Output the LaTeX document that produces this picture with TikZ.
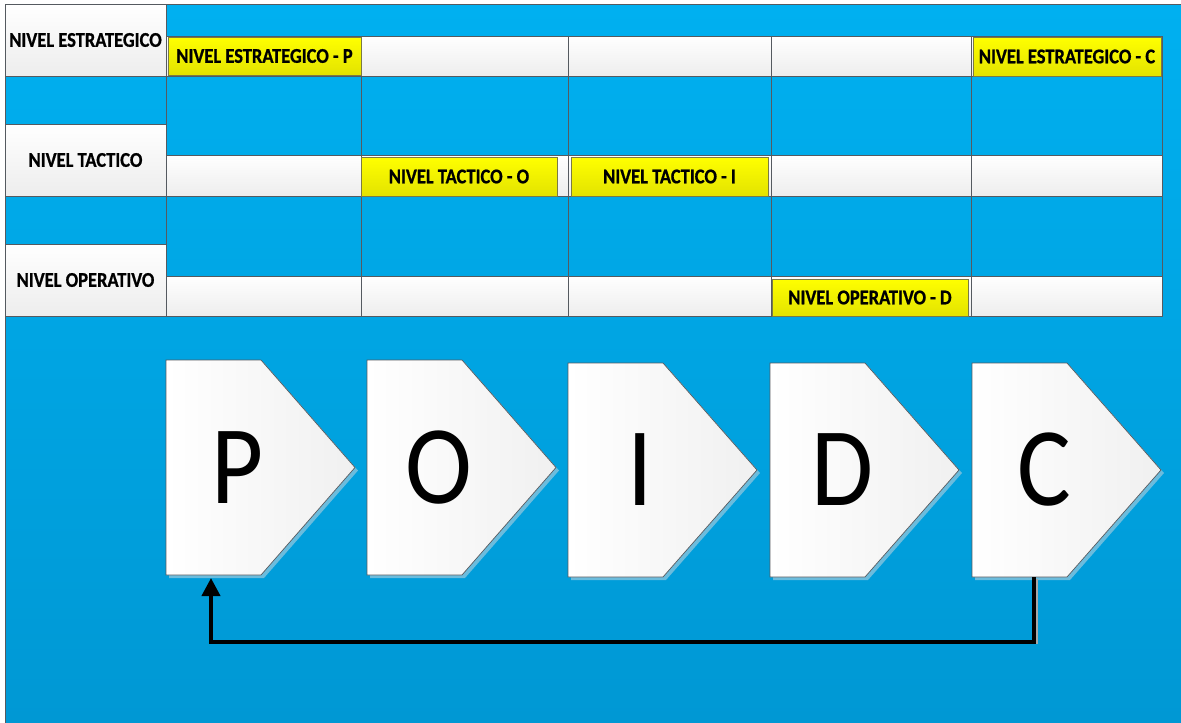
\documentclass[tikz,border=0pt]{standalone}
\usepackage{fontspec}
\setmainfont{Carlito}
\newfontfamily\labfont[FakeStretch=0.9]{Carlito}
\newfontfamily\boldlab[FakeStretch=0.88,UprightFont=* Bold,FakeBold=0.8]{Carlito}
\usetikzlibrary{arrows.meta}
\definecolor{bgtop}{HTML}{00B0F0}
\definecolor{bgbot}{HTML}{0098D4}
\definecolor{linegray}{HTML}{555A60}
\definecolor{cellbot}{HTML}{EDEDED}
\definecolor{ytop}{HTML}{FFFF00}
\definecolor{ybot}{HTML}{E3E300}
\definecolor{yedge}{HTML}{7A7A45}
\definecolor{shadowc}{HTML}{6BBCDD}
\definecolor{chevbot}{HTML}{F0F0F0}
\tikzset{
  cellbox/.style={draw=linegray, line width=0.9pt, top color=white, bottom color=cellbot, inner sep=0pt, outer sep=0pt, anchor=north west},
  labelbox/.style={cellbox, font=\boldlab\fontsize{21}{24}\selectfont, text=black},
  ybox/.style={draw=yedge, line width=0.9pt, top color=ytop, bottom color=ybot, inner sep=0pt, outer sep=0pt, anchor=north west, font=\boldlab\fontsize{21}{24}\selectfont, text=black},
  chevshape/.style={draw=linegray, line width=0.7pt, left color=white, right color=chevbot},
  bigletter/.style={font=\labfont\fontsize{112}{112}\selectfont, text=black, inner sep=0pt},
  conn/.style={line width=4pt, draw=black, -{Triangle[length=18pt,width=18pt]}}
}
\newcommand\chevron[5]{%
  \fill[shadowc, shift={(3,3)}] (#2,#3) -- ({#2+95},#3) -- ({#2+189},{(#3+#4)/2}) -- ({#2+95},#4) -- (#2,#4) -- cycle;
  \path[chevshape] (#2,#3) -- ({#2+95},#3) -- ({#2+189},{(#3+#4)/2}) -- ({#2+95},#4) -- (#2,#4) -- cycle;
  \node[bigletter] (#1) at ({#2+72},{(#3+#4)/2}) {#5};
}
\begin{document}
\begin{tikzpicture}[x=1pt,y=-1pt]
\useasboundingbox (0,0) rectangle (1181,723);
% background
\fill[top color=bgtop, bottom color=bgbot] (5,4) rectangle (1181,723);
\draw[linegray, line width=1pt] (5,723) -- (5,4) -- (1181,4);
% vertical grid lines in lanes
\foreach \xx in {166,361,568,771,971,1162}
  \draw[linegray, line width=0.9pt] (\xx,36) -- (\xx,316);
% white cells
\foreach \yy/\hh [count=\r] in {36/40,155/41,276/40}
  \foreach \xa/\xb [count=\c] in {166/361,361/568,568/771,771/971,971/1162}
    \node[cellbox, minimum width={\xb-\xa}, minimum height=\hh] (cell\r\c) at (\xa,\yy) {};
% level labels
\node[labelbox, minimum width=161, minimum height=72] (lest) at (5,4) {NIVEL ESTRATEGICO};
\node[labelbox, minimum width=161, minimum height=72] (ltac) at (5,124) {NIVEL TACTICO};
\node[labelbox, minimum width=161, minimum height=72] (lope) at (5,244) {NIVEL OPERATIVO};
% yellow boxes
\node[ybox, minimum width=193, minimum height=38] (yP) at (168,37) {NIVEL ESTRATEGICO - P};
\node[ybox, minimum width=196, minimum height=39] (yO) at (361,157) {NIVEL TACTICO - O};
\node[ybox, minimum width=197, minimum height=39] (yI) at (571,157) {NIVEL TACTICO - I};
\node[ybox, minimum width=196, minimum height=37] (yD) at (772,279) {NIVEL OPERATIVO - D};
\node[ybox, minimum width=188, minimum height=39] (yC) at (973,37) {NIVEL ESTRATEGICO - C};
% chevrons
\chevron{P}{166}{360}{575}{P}
\chevron{O}{367}{360}{575}{O}
\chevron{I}{568}{363}{577}{I}
\chevron{D}{770}{363}{577}{D}
\chevron{C}{972}{363}{577}{C}
% feedback connector
\coordinate (Cout) at (1034,577);
\coordinate (turn) at (1034,642);
\coordinate (Pin) at (211,578);
\draw[line width=2pt, draw=gray!70] (1037,579) -- (1037,644);
\draw[conn] (Cout) -- (turn) -| (Pin);
\end{tikzpicture}
\end{document}
